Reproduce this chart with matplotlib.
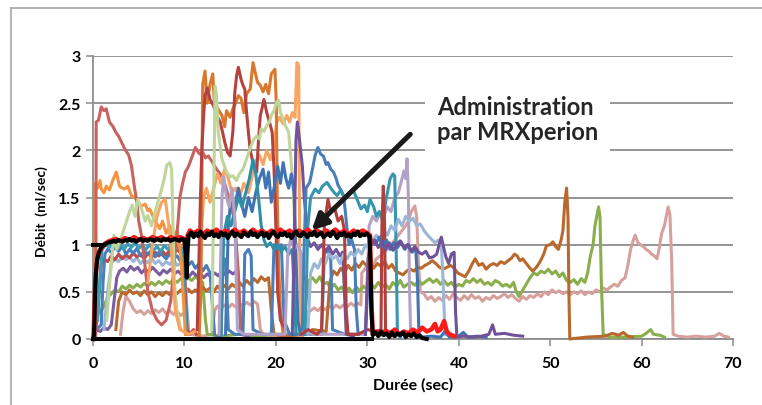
"""
Flow-rate traces (Débit vs Durée) with the MRXperion administration curve highlighted.
"""

import matplotlib
import numpy as np

matplotlib.use("Agg")
import matplotlib.pyplot as plt
from matplotlib.lines import Line2D

plt.rcParams["font.family"] = ["Lato", "DejaVu Sans"]

# -- Data (time in sec, flow in ml/sec) ---------------------------------------
SALMON = [(0.3, 0.0), (0.35, 2.3), (0.6, 2.32), (0.9, 2.46), (1.2, 2.42), (1.45, 2.44),
          (1.8, 2.3), (2.2, 2.25), (2.5, 2.19), (2.8, 2.15), (3.1, 2.09), (3.5, 2.01),
          (3.9, 1.95), (4.2, 1.84), (4.55, 1.6), (4.8, 1.45), (5.0, 1.25), (5.3, 1.1),
          (5.6, 0.85), (6.0, 0.5), (6.5, 0.3), (7.0, 0.2), (7.5, 0.15), (8.0, 0.2),
          (8.5, 0.4), (8.8, 0.7), (9.0, 0.95), (9.3, 1.24), (9.5, 1.5), (9.8, 1.65),
          (10.1, 1.77), (10.4, 1.82), (10.6, 1.87), (10.9, 1.95), (11.2, 2.03), (11.5, 1.98),
          (11.7, 1.96), (12.0, 1.98), (12.3, 1.92), (12.6, 1.94), (13.1, 1.87), (13.5, 1.8),
          (14.0, 1.74), (14.5, 1.62), (15.0, 1.45), (15.5, 1.25), (15.9, 0.7), (16.2, 0.05)]

ORANGE = [(0.2, 0.0), (0.28, 1.65), (0.5, 1.6), (0.77, 1.68), (0.9, 1.59), (1.2, 1.55),
          (1.45, 1.62), (1.8, 1.58), (2.2, 1.69), (2.55, 1.77), (2.9, 1.62), (3.2, 1.6),
          (3.5, 1.59), (3.8, 1.62), (4.2, 1.52), (4.5, 1.5), (4.75, 1.48), (5.0, 1.44),
          (5.3, 1.41), (5.7, 1.43), (6.0, 1.36), (6.2, 1.38), (6.7, 1.27), (7.0, 1.22),
          (7.3, 1.17), (7.6, 1.25), (8.0, 1.12), (8.4, 1.2), (8.8, 1.08), (9.2, 1.15),
          (9.6, 0.9), (9.9, 0.4), (10.1, 0.05)]

LIGHT_ORANGE = [(6.0, 0.6), (6.5, 1.0), (7.0, 1.3), (7.5, 1.45), (7.9, 1.48), (8.3, 1.2),
                (8.7, 0.8), (9.0, 0.3), (9.5, 0.1), (10.5, 0.05), (11.5, 0.1), (11.9, 1.2),
                (12.1, 1.5), (12.4, 1.6), (12.8, 1.45), (13.2, 1.6), (13.6, 1.75), (14.0, 1.65),
                (14.4, 1.8), (14.8, 1.7), (15.2, 1.55), (15.6, 1.6), (16.0, 1.5), (16.5, 1.65),
                (17.0, 1.55), (17.4, 1.72), (17.8, 1.88), (18.2, 1.95), (18.6, 1.85), (19.0, 2.0),
                (19.4, 1.9), (19.8, 2.05), (20.1, 2.3), (20.4, 2.35), (20.8, 2.28), (21.2, 2.37),
                (21.5, 2.3), (21.8, 2.4), (22.1, 2.35), (22.3, 2.93), (22.5, 2.9), (22.6, 1.0),
                (22.7, 0.1), (23.0, 0.0)]

DARK_ORANGE = [(11.6, 0.0), (11.8, 0.5), (12.0, 2.7), (12.25, 2.84), (12.5, 2.5), (12.8, 2.7),
               (13.1, 2.81), (13.3, 2.47), (13.6, 2.45), (14.1, 2.37), (14.4, 2.25), (14.6, 2.42),
               (15.0, 2.35), (15.3, 2.44), (15.6, 2.5), (15.9, 2.58), (16.2, 2.55), (16.5, 2.4),
               (16.8, 2.6), (17.2, 2.65), (17.5, 2.93), (17.8, 2.8), (18.0, 2.72), (18.3, 2.69),
               (18.6, 2.62), (18.9, 2.7), (19.2, 2.6), (19.5, 2.81), (19.9, 2.86), (20.05, 2.5),
               (20.15, 1.5), (20.3, 0.8), (20.5, 0.3), (20.8, 0.05)]

DARK_RED = [(11.4, 0.1), (11.7, 1.3), (11.9, 2.01), (12.1, 2.37), (12.25, 2.58), (12.5, 2.66),
            (12.8, 2.54), (13.2, 2.47), (13.5, 2.38), (13.9, 2.3), (14.2, 2.18), (14.4, 2.09),
            (14.7, 1.98), (15.0, 1.94), (15.3, 2.2), (15.5, 2.6), (15.7, 2.79), (15.9, 2.88),
            (16.2, 2.75), (16.4, 2.69), (16.6, 2.65), (16.8, 2.4), (17.0, 2.19), (17.2, 2.0),
            (17.4, 1.91), (17.7, 1.8), (17.9, 1.77), (18.1, 2.1), (18.3, 2.37), (18.5, 2.45),
            (18.7, 2.54), (19.0, 2.4), (19.3, 2.3), (19.6, 2.19), (19.8, 1.8), (20.0, 1.2),
            (20.2, 0.5), (20.5, 0.2), (21.0, 0.1)]

LIGHT_GREEN_A = [(1.5, 0.2), (2.0, 0.8), (2.3, 1.1), (2.6, 0.95), (3.0, 1.05), (3.5, 1.2),
                 (4.0, 1.35), (4.3, 1.42), (4.6, 1.3), (4.9, 1.48), (5.3, 1.38), (5.7, 1.25),
                 (6.0, 1.31), (6.4, 1.2), (6.8, 1.35), (7.1, 1.45), (7.4, 1.55), (7.8, 1.7),
                 (8.05, 1.84), (8.4, 1.87), (8.6, 1.8), (8.75, 1.2), (8.9, 0.6), (9.2, 0.3),
                 (9.6, 0.1)]

LIGHT_GREEN_B = [(13.0, 0.1), (13.2, 1.5), (13.35, 2.68), (13.5, 2.6), (13.7, 2.19), (14.1, 1.91),
                 (14.6, 1.77), (15.0, 1.72), (15.3, 1.73), (15.7, 1.68), (16.0, 1.75), (16.4, 1.8),
                 (16.8, 1.91), (17.3, 2.05), (17.6, 2.12), (17.9, 2.15), (18.2, 2.12), (18.4, 2.23),
                 (18.7, 2.2), (19.0, 2.26), (19.3, 2.3), (19.5, 2.37), (19.8, 2.42), (20.1, 2.51),
                 (20.3, 2.53), (20.5, 2.4), (20.8, 2.33), (21.1, 2.25), (21.4, 2.19), (21.7, 1.84),
                 (21.9, 1.6), (22.1, 1.1), (22.3, 0.3), (22.5, 0.05)]

BLUE_A = [(14.5, 0.05), (14.8, 1.2), (15.1, 1.5), (15.5, 1.4), (15.9, 1.6), (16.2, 1.45),
          (16.6, 1.3), (17.0, 1.5), (17.4, 1.35), (17.8, 1.55), (18.2, 1.7), (18.6, 1.8),
          (18.9, 1.6), (19.2, 1.77), (19.5, 1.45), (19.8, 1.6), (20.2, 1.83), (20.5, 1.65),
          (20.8, 1.87), (21.1, 1.7), (21.4, 1.6), (21.7, 1.75), (22.0, 1.55), (22.2, 0.9),
          (22.4, 0.2), (22.7, 0.05)]

BLUE_B = [(22.9, 0.1), (23.1, 1.0), (23.3, 1.6), (23.7, 1.66), (24.0, 1.8), (24.3, 1.95),
          (24.6, 2.03), (24.9, 1.96), (25.2, 1.94), (25.5, 1.85), (25.7, 1.87), (26.0, 1.8),
          (26.3, 1.77), (26.6, 1.7), (26.8, 1.63), (27.1, 1.58), (27.4, 1.52), (27.6, 1.35),
          (27.8, 1.15), (28.0, 1.0), (28.3, 1.05), (28.6, 0.95), (28.8, 0.3), (29.0, 0.05)]

BLUE_C = [(0.2, 0.1), (0.6, 0.12), (0.9, 0.15), (1.1, 0.6), (1.3, 0.9), (1.6, 0.95), (2.0, 0.92),
          (2.4, 0.97), (2.8, 0.93), (3.2, 0.98), (3.6, 0.9), (4.0, 0.95), (4.4, 0.91), (4.8, 0.96),
          (5.2, 0.88), (5.6, 0.93), (6.0, 0.9), (6.4, 0.94), (6.8, 0.87), (7.2, 0.92), (7.6, 0.89),
          (8.0, 0.85), (8.4, 0.9), (8.8, 0.86), (9.2, 0.88), (9.6, 0.82), (10.0, 0.85),
          (10.4, 0.78), (10.8, 0.82), (11.2, 0.75), (11.6, 0.8), (12.0, 0.72), (12.4, 0.78),
          (12.8, 0.7), (13.1, 0.3), (13.3, 0.05)]

BLUE_D = [(29.8, 0.05), (30.2, 0.9), (30.5, 1.05), (30.9, 1.0), (31.3, 1.08), (31.7, 0.98),
          (32.1, 1.05), (32.5, 0.95), (32.9, 1.02), (33.3, 0.97), (33.7, 1.03), (34.1, 0.95),
          (34.5, 1.0), (34.9, 0.92), (35.3, 0.96), (35.5, 0.6), (35.65, 0.05), (36.0, 0.02),
          (37.0, 0.03), (38.0, 0.02), (38.5, 0.08), (39.0, 0.02), (40.0, 0.03), (40.5, 0.07),
          (41.0, 0.02), (42.0, 0.03), (43.0, 0.02)]

BLUE_E = [(13.5, 0.02), (14.0, 0.03), (14.2, 0.8), (14.5, 0.85), (14.8, 0.1), (15.5, 0.05),
          (16.4, 0.05), (16.6, 0.9), (17.0, 0.95), (17.3, 0.88), (17.5, 0.1), (18.5, 0.05),
          (19.5, 0.05), (19.8, 1.0), (20.2, 0.95), (20.6, 1.0), (20.9, 0.2), (21.5, 0.05),
          (25.0, 0.05), (25.3, 0.9), (25.7, 0.95), (26.0, 0.85), (26.2, 0.1), (27.5, 0.05),
          (28.0, 0.05)]

TEAL_A = [(0.5, 0.2), (0.8, 0.7), (1.0, 0.95), (1.4, 1.0), (1.8, 0.97), (2.2, 1.02), (2.6, 0.96),
          (3.0, 1.0), (3.4, 0.95), (3.8, 1.01), (4.2, 0.97), (4.6, 1.02), (5.0, 0.96), (5.4, 0.99),
          (5.8, 0.95), (6.2, 1.0), (6.6, 0.94), (7.0, 0.98), (7.4, 0.93), (7.8, 0.99), (8.2, 0.95),
          (8.6, 1.0), (9.0, 0.94), (9.4, 0.98), (9.8, 0.96), (10.0, 0.5), (10.2, 0.05)]

TEAL_B = [(14.0, 0.05), (14.3, 1.1), (14.7, 1.3), (15.1, 1.2), (15.5, 1.35), (15.9, 1.5),
          (16.3, 1.4), (16.7, 1.55), (17.1, 1.7), (17.5, 1.9), (17.8, 1.75), (18.1, 1.5),
          (18.4, 1.2), (18.7, 1.05), (19.0, 0.98), (19.4, 1.02), (19.8, 0.95), (20.2, 1.0),
          (20.6, 0.93), (21.0, 0.98), (21.4, 0.9), (21.8, 0.95), (22.0, 0.5), (22.2, 0.05)]

TEAL_C = [(23.2, 0.05), (23.5, 1.2), (23.8, 1.5), (24.3, 1.59), (24.7, 1.55), (25.1, 1.62),
          (25.6, 1.66), (26.0, 1.6), (26.4, 1.55), (26.7, 1.52), (27.1, 1.58), (27.5, 1.5),
          (28.0, 1.55), (28.4, 1.59), (28.8, 1.5), (29.3, 1.38), (29.7, 1.42), (30.0, 1.35),
          (30.3, 1.48), (30.7, 1.4), (31.0, 1.3), (31.3, 1.35), (31.7, 1.25), (32.0, 1.45),
          (32.3, 1.6), (32.5, 1.7), (32.8, 1.75), (33.0, 1.73), (33.15, 1.0), (33.3, 0.05),
          (33.6, 0.02)]

PURPLE_A = [(0.1, 0.05), (0.3, 0.1), (0.8, 0.08), (1.2, 0.12), (1.6, 0.1), (2.0, 0.15),
            (2.3, 0.4), (2.6, 0.65), (2.9, 0.72), (3.3, 0.75), (3.7, 0.71), (4.1, 0.77),
            (4.5, 0.73), (4.9, 0.76), (5.3, 0.7), (5.7, 0.74), (6.1, 0.71), (6.5, 0.76),
            (6.9, 0.72), (7.3, 0.68), (7.7, 0.73), (8.1, 0.7), (8.5, 0.74), (8.9, 0.69),
            (9.3, 0.72), (9.7, 0.68), (10.1, 0.7), (10.5, 0.66), (10.9, 0.71), (11.3, 0.67),
            (11.7, 0.7), (12.1, 0.65), (12.5, 0.69), (12.9, 0.66), (13.3, 0.7), (13.7, 0.67),
            (14.1, 0.72), (14.5, 0.68), (14.9, 0.72), (15.3, 0.69), (15.7, 0.72), (16.0, 0.4),
            (16.2, 0.05), (17.0, 0.03)]

PURPLE_B = [(21.8, 0.05), (22.0, 1.0), (22.2, 2.1), (22.35, 2.3), (22.6, 2.1), (22.9, 1.83),
            (23.1, 1.5), (23.3, 1.3), (23.5, 1.05), (23.8, 0.98), (24.2, 1.02), (24.6, 0.95),
            (25.0, 1.0), (25.4, 0.93), (25.8, 0.98), (26.2, 0.9), (26.6, 0.95), (27.0, 0.88),
            (27.3, 0.92), (27.5, 0.5), (27.7, 0.05), (28.5, 0.03)]

PURPLE_C = [(29.8, 0.05), (30.1, 0.85), (30.4, 1.0), (30.8, 1.05), (31.2, 0.97), (31.6, 1.03),
            (32.0, 0.95), (32.4, 1.02), (32.8, 0.94), (33.2, 1.0), (33.6, 1.04), (34.0, 0.97),
            (34.4, 1.0), (34.8, 0.93), (35.2, 0.98), (35.6, 0.92), (36.0, 0.9), (36.4, 0.93),
            (36.8, 0.86), (37.2, 0.87), (37.6, 0.9), (37.9, 1.02), (38.1, 1.08), (38.4, 0.95),
            (38.6, 0.87), (38.9, 0.8), (39.2, 0.9), (39.5, 0.92), (39.65, 0.3), (39.8, 0.02),
            (40.5, 0.03), (41.5, 0.02), (42.5, 0.03), (43.3, 0.05), (43.7, 0.15), (44.0, 0.05),
            (45.0, 0.06), (46.0, 0.04), (47.0, 0.03)]

LIGHT_PURPLE = [(13.8, 0.05), (14.1, 1.5), (14.3, 1.72), (14.6, 1.5), (14.9, 1.4), (15.2, 1.6),
                (15.5, 1.3), (15.8, 0.1), (16.5, 0.05), (21.0, 0.05), (21.3, 0.9), (21.7, 1.1),
                (22.0, 0.95), (22.4, 1.0), (22.8, 0.9), (23.0, 0.1), (24.0, 0.05), (29.8, 0.05),
                (30.2, 1.2), (30.6, 1.3), (31.0, 1.25), (31.4, 1.35), (31.8, 1.3), (32.2, 1.4),
                (32.6, 1.35), (33.0, 1.5), (33.4, 1.55), (33.8, 1.7), (34.0, 1.78), (34.2, 1.7),
                (34.35, 1.91), (34.5, 1.5), (34.6, 0.6), (34.75, 0.05), (35.5, 0.03)]

LIGHT_BLUE_A = [(1.2, 0.1), (1.6, 0.5), (2.0, 0.8), (2.4, 0.85), (2.8, 0.82), (3.2, 0.88),
                (3.6, 0.84), (4.0, 0.87), (4.4, 0.82), (4.8, 0.86), (5.2, 0.8), (5.6, 0.84),
                (6.0, 0.81), (6.4, 0.86), (6.8, 0.8), (7.2, 0.83), (7.6, 0.78), (8.0, 0.82),
                (8.4, 0.79), (8.8, 0.84), (9.2, 0.78), (9.6, 0.8), (10.0, 0.75), (10.3, 0.3),
                (10.5, 0.05)]

LIGHT_BLUE_B = [(23.5, 0.05), (23.8, 0.7), (24.2, 0.8), (24.6, 0.75), (25.0, 0.85), (25.4, 0.8),
                (25.8, 0.9), (26.2, 0.85), (26.6, 0.88), (27.0, 0.8), (27.4, 0.9), (27.8, 0.85),
                (28.2, 0.92), (28.6, 0.88), (29.0, 0.95), (29.4, 0.9), (29.8, 1.0), (30.2, 0.95),
                (30.6, 1.05), (31.0, 1.1), (31.4, 1.05), (31.8, 1.15), (32.2, 1.1), (32.6, 1.2),
                (33.0, 1.15), (33.4, 1.27), (33.8, 1.2), (34.2, 1.3), (34.6, 1.25), (35.0, 1.28),
                (35.4, 1.2), (35.8, 1.22), (36.2, 1.15), (36.6, 1.1), (37.0, 1.06), (37.4, 1.02),
                (37.8, 1.05), (38.1, 1.0), (38.3, 0.6), (38.5, 0.05), (39.0, 0.03)]

RED_A = [(0.3, 0.1), (0.6, 0.4), (0.9, 0.8), (1.2, 0.85), (1.6, 0.82), (2.0, 0.88), (2.4, 0.84),
         (2.8, 0.9), (3.2, 0.85), (3.6, 0.89), (4.0, 0.86), (4.4, 0.91), (4.8, 0.87), (5.2, 0.9),
         (5.6, 0.85), (6.0, 0.91), (6.4, 0.87), (6.8, 0.92), (7.2, 0.88), (7.6, 0.93), (8.0, 0.89),
         (8.4, 0.94), (8.8, 0.9), (9.2, 0.95), (9.6, 0.91), (9.9, 0.94), (10.1, 0.5), (10.3, 0.1),
         (10.6, 0.05), (11.0, 0.1), (11.3, 0.05)]

DARK_RED_B = [(22.8, 0.05), (23.5, 0.1), (24.5, 0.05), (25.0, 0.1), (25.3, 1.2), (25.7, 1.48),
              (26.0, 1.35), (26.4, 1.4), (26.8, 1.25), (27.2, 1.3), (27.5, 1.15), (27.7, 0.3),
              (27.9, 0.05), (29.0, 0.05), (30.0, 0.1), (31.0, 0.08), (31.5, 0.1), (31.6, 1.2),
              (31.75, 1.62), (31.9, 1.2), (32.0, 0.05), (33.0, 0.03)]

BROWN = [(2.5, 0.1), (2.8, 0.4), (3.2, 0.5), (3.6, 0.47), (4.0, 0.52), (4.4, 0.48), (4.8, 0.5),
         (5.2, 0.46), (5.6, 0.51), (6.0, 0.47), (6.4, 0.5), (6.8, 0.45), (7.2, 0.49), (7.6, 0.46),
         (8.0, 0.5), (8.4, 0.47), (8.8, 0.51), (9.2, 0.48), (9.6, 0.52), (10.0, 0.5), (10.4, 0.53),
         (10.8, 0.49), (11.2, 0.52), (11.6, 0.5), (12.0, 0.55), (12.4, 0.51), (12.8, 0.54),
         (13.2, 0.5), (13.6, 0.56), (14.0, 0.52), (14.4, 0.57), (14.8, 0.53), (15.2, 0.58),
         (15.6, 0.55), (16.0, 0.6), (16.4, 0.56), (16.8, 0.62), (17.2, 0.58), (17.6, 0.64),
         (18.0, 0.6), (18.4, 0.66), (18.8, 0.62), (19.2, 0.65), (19.5, 0.3), (19.8, 0.05),
         (21.0, 0.03), (23.5, 0.05), (24.0, 0.1), (25.5, 0.08), (25.9, 0.6), (26.3, 0.72),
         (26.7, 0.68), (27.1, 0.75), (27.5, 0.7), (27.9, 0.78), (28.3, 0.73), (28.7, 0.8),
         (29.1, 0.76), (29.5, 0.82), (29.9, 0.78), (30.3, 0.8), (30.7, 0.75), (31.1, 0.8),
         (31.5, 0.77), (31.9, 0.82), (32.3, 0.75), (32.7, 0.79), (33.1, 0.72), (33.5, 0.7),
         (33.9, 0.68), (34.3, 0.72), (34.7, 0.74), (35.1, 0.72), (35.5, 0.76), (35.9, 0.75),
         (36.3, 0.78), (36.7, 0.8), (37.1, 0.83), (37.5, 0.8), (37.9, 0.76), (38.3, 0.74),
         (38.7, 0.76), (39.1, 0.78), (39.5, 0.75), (39.9, 0.7), (40.3, 0.68), (40.7, 0.66),
         (41.1, 0.72), (41.5, 0.8), (41.8, 0.85), (42.2, 0.78), (42.6, 0.8), (43.0, 0.74),
         (43.4, 0.78), (43.8, 0.8), (44.2, 0.78), (44.6, 0.82), (45.0, 0.8), (45.4, 0.83),
         (45.8, 0.86), (46.1, 0.9), (46.4, 0.88), (46.7, 0.83), (47.0, 0.85), (47.4, 0.8),
         (47.8, 0.75), (48.1, 0.72), (48.5, 0.76), (48.9, 0.82), (49.3, 0.9), (49.6, 0.99),
         (50.0, 1.0), (50.3, 1.03), (50.6, 0.98), (50.9, 0.95), (51.2, 1.05), (51.4, 1.15),
         (51.6, 1.45), (51.8, 1.6), (51.95, 1.3), (52.05, 0.5), (52.15, 0.0), (54.0, 0.02),
         (56.0, 0.03), (56.8, 0.06), (57.5, 0.04), (58.0, 0.07), (58.5, 0.03), (59.0, 0.02)]

GREEN = [(0.3, 0.1), (0.5, 0.25), (0.8, 0.3), (1.1, 0.33), (1.4, 0.4), (1.7, 0.45), (2.0, 0.48),
         (2.4, 0.52), (2.8, 0.5), (3.2, 0.56), (3.6, 0.53), (4.0, 0.57), (4.4, 0.54), (4.8, 0.58),
         (5.2, 0.55), (5.6, 0.59), (6.0, 0.56), (6.4, 0.6), (6.8, 0.57), (7.2, 0.61), (7.6, 0.58),
         (8.0, 0.62), (8.4, 0.59), (8.8, 0.63), (9.2, 0.6), (9.6, 0.64), (10.0, 0.61), (10.4, 0.65),
         (10.8, 0.62), (11.2, 0.66), (11.6, 0.63), (12.0, 0.6), (12.3, 0.2), (12.5, 0.05),
         (14.0, 0.03), (16.0, 0.05), (18.0, 0.03), (20.0, 0.05), (22.5, 0.05), (23.0, 0.1),
         (23.3, 0.4), (23.6, 0.62), (24.0, 0.65), (24.4, 0.6), (24.8, 0.66), (25.2, 0.58),
         (25.6, 0.6), (26.0, 0.54), (26.4, 0.58), (26.8, 0.52), (27.2, 0.55), (27.6, 0.5),
         (28.0, 0.54), (28.4, 0.49), (28.8, 0.55), (29.2, 0.51), (29.6, 0.56), (30.0, 0.52),
         (30.4, 0.58), (30.8, 0.54), (31.2, 0.6), (31.6, 0.55), (32.0, 0.58), (32.4, 0.53),
         (32.8, 0.6), (33.2, 0.56), (33.6, 0.62), (34.0, 0.55), (34.4, 0.58), (34.8, 0.6),
         (35.2, 0.57), (35.6, 0.62), (36.0, 0.58), (36.4, 0.61), (36.8, 0.64), (37.2, 0.6),
         (37.6, 0.63), (38.0, 0.58), (38.4, 0.62), (38.8, 0.57), (39.2, 0.6), (39.6, 0.55),
         (40.0, 0.58), (40.4, 0.56), (40.8, 0.62), (41.2, 0.6), (41.6, 0.64), (42.0, 0.6),
         (42.4, 0.63), (42.8, 0.58), (43.2, 0.6), (43.6, 0.57), (44.0, 0.62), (44.4, 0.6),
         (44.8, 0.56), (45.2, 0.58), (45.6, 0.55), (46.0, 0.6), (46.3, 0.5), (46.6, 0.45),
         (46.9, 0.5), (47.2, 0.55), (47.5, 0.6), (47.8, 0.65), (48.2, 0.7), (48.6, 0.68),
         (49.0, 0.72), (49.4, 0.7), (49.8, 0.74), (50.2, 0.69), (50.6, 0.72), (51.0, 0.66),
         (51.4, 0.7), (51.8, 0.62), (52.2, 0.6), (52.6, 0.63), (53.0, 0.58), (53.4, 0.64),
         (53.8, 0.6), (54.1, 0.7), (54.4, 0.88), (54.7, 1.0), (54.9, 1.2), (55.1, 1.3),
         (55.3, 1.4), (55.45, 1.3), (55.6, 0.6), (55.8, 0.05), (56.5, 0.02), (58.0, 0.02),
         (60.0, 0.03), (60.5, 0.06), (61.0, 0.1), (61.3, 0.05), (62.0, 0.04), (62.5, 0.02)]

PINK = [(3.0, 0.05), (3.3, 0.3), (3.6, 0.45), (4.0, 0.4), (4.4, 0.32), (4.8, 0.28), (5.2, 0.3),
        (5.6, 0.26), (6.0, 0.3), (6.4, 0.27), (6.8, 0.31), (7.2, 0.28), (7.6, 0.32), (8.0, 0.27),
        (8.4, 0.3), (8.8, 0.26), (9.2, 0.29), (9.6, 0.25), (10.0, 0.28), (10.3, 0.1),
        (10.6, 0.05), (12.0, 0.03), (13.0, 0.05), (13.3, 0.3), (13.6, 0.35), (14.0, 0.32),
        (14.4, 0.36), (14.8, 0.33), (15.2, 0.37), (15.6, 0.34), (16.0, 0.38), (16.4, 0.35),
        (16.8, 0.39), (17.2, 0.36), (17.6, 0.4), (18.0, 0.37), (18.3, 0.1), (18.6, 0.05),
        (20.0, 0.03), (22.5, 0.05), (23.0, 0.1), (23.4, 0.28), (23.8, 0.3), (24.2, 0.33),
        (24.6, 0.3), (25.0, 0.34), (25.4, 0.31), (25.8, 0.35), (26.2, 0.32), (26.6, 0.36),
        (27.0, 0.33), (27.4, 0.36), (27.8, 0.34), (28.2, 0.38), (28.6, 0.35), (29.0, 0.38),
        (29.3, 0.36), (29.4, 0.7), (29.8, 0.75), (30.2, 0.8), (30.6, 0.78), (31.0, 0.85),
        (31.4, 0.88), (31.8, 0.92), (32.2, 0.95), (32.6, 1.0), (33.0, 1.05), (33.4, 1.1),
        (33.8, 1.15), (34.2, 1.2), (34.5, 1.25), (34.8, 1.35), (35.2, 1.41), (35.4, 1.3),
        (35.6, 0.8), (35.8, 0.5), (36.2, 0.48), (36.6, 0.42), (37.0, 0.45), (37.4, 0.4),
        (37.8, 0.44), (38.2, 0.41), (38.6, 0.46), (39.0, 0.42), (39.4, 0.48), (39.8, 0.44),
        (40.2, 0.41), (40.6, 0.46), (41.0, 0.42), (41.4, 0.47), (41.8, 0.43), (42.2, 0.45),
        (42.6, 0.4), (43.0, 0.44), (43.4, 0.42), (43.8, 0.46), (44.2, 0.43), (44.6, 0.45),
        (45.0, 0.48), (45.4, 0.44), (45.8, 0.47), (46.2, 0.43), (46.6, 0.4), (47.0, 0.45),
        (47.4, 0.42), (47.8, 0.46), (48.2, 0.44), (48.6, 0.48), (49.0, 0.45), (49.4, 0.5),
        (49.8, 0.47), (50.2, 0.52), (50.6, 0.49), (51.0, 0.51), (51.4, 0.48), (51.8, 0.5),
        (52.2, 0.47), (52.6, 0.5), (53.0, 0.48), (53.4, 0.51), (53.8, 0.47), (54.2, 0.5),
        (54.6, 0.48), (55.0, 0.52), (55.4, 0.5), (55.8, 0.54), (56.2, 0.52), (56.6, 0.55),
        (57.0, 0.58), (57.4, 0.56), (57.8, 0.62), (58.2, 0.65), (58.5, 0.78), (58.8, 0.95),
        (59.1, 1.05), (59.3, 1.1), (59.6, 1.02), (59.9, 1.0), (60.2, 0.98), (60.5, 0.95),
        (60.8, 0.93), (61.1, 0.9), (61.4, 0.88), (61.7, 0.85), (61.9, 0.95), (62.2, 1.12),
        (62.5, 1.2), (62.7, 1.3), (62.9, 1.4), (63.1, 1.32), (63.3, 0.8), (63.45, 0.05),
        (64.0, 0.03), (65.0, 0.02), (66.0, 0.03), (67.0, 0.02), (68.0, 0.03), (68.5, 0.06),
        (69.0, 0.03), (69.5, 0.02)]

RED_MRX = [(0.05, 0.0), (0.15, 0.3), (0.25, 0.6), (0.4, 0.8), (0.6, 0.9), (0.9, 0.96),
           (1.3, 1.01), (1.8, 1.04), (2.5, 1.06), (3.0, 1.04), (3.5, 1.07), (4.0, 1.05),
           (4.5, 1.08), (5.0, 1.05), (5.5, 1.07), (6.0, 1.05), (6.5, 1.08), (7.0, 1.06),
           (7.5, 1.08), (8.0, 1.05), (8.5, 1.08), (9.0, 1.06), (9.5, 1.08), (10.0, 1.06),
           (10.2, 0.8), (10.35, 1.1), (10.6, 1.15), (11.0, 1.12), (11.5, 1.15), (12.0, 1.11),
           (12.5, 1.15), (13.0, 1.12), (13.5, 1.16), (14.0, 1.11), (14.5, 1.15), (15.0, 1.12),
           (15.5, 1.16), (16.0, 1.12), (16.5, 1.15), (17.0, 1.11), (17.5, 1.16), (18.0, 1.12),
           (18.5, 1.15), (19.0, 1.11), (19.5, 1.15), (20.0, 1.12), (20.5, 1.16), (21.0, 1.12),
           (21.5, 1.15), (22.0, 1.11), (22.5, 1.15), (23.0, 1.12), (23.5, 1.16), (24.0, 1.12),
           (24.5, 1.15), (25.0, 1.11), (25.5, 1.15), (26.0, 1.12), (26.5, 1.16), (27.0, 1.12),
           (27.5, 1.15), (28.0, 1.11), (28.5, 1.15), (29.0, 1.12), (29.5, 1.15), (30.0, 1.12),
           (30.3, 1.1), (30.45, 0.4), (30.6, 0.05), (31.0, 0.08), (31.5, 0.05), (32.0, 0.09),
           (32.5, 0.06), (33.0, 0.1), (33.5, 0.05), (34.0, 0.08), (34.5, 0.06), (35.0, 0.1),
           (35.5, 0.07), (36.0, 0.12), (36.5, 0.08), (37.0, 0.1), (37.4, 0.16), (37.7, 0.08),
           (38.0, 0.1), (38.4, 0.19), (38.7, 0.08), (39.0, 0.05), (39.5, 0.03)]

# MRXperion curve (black) in pieces: lead-in, rise, plateau 1, dip, plateau 2, fall + tail
MRX_LEAD = [(0.0, 1.0), (1.2, 1.0)]
MRX_BASE = [(0.0, 0.0), (30.5, 0.0)]
MRX_RISE = [(0.0, 0.0), (0.12, 0.05), (0.22, 0.45), (0.32, 0.7), (0.45, 0.84), (0.65, 0.92),
            (0.9, 0.97), (1.2, 1.0), (1.6, 1.02), (2.0, 1.03)]
MRX_PLATEAU1 = [1.03, 1.04, 1.03, 1.05, 1.04, 1.03, 1.05, 1.04, 1.06, 1.04, 1.05, 1.03, 1.05,
                1.06, 1.04, 1.05, 1.04, 1.06, 1.05, 1.04, 1.06, 1.05, 1.04, 1.06, 1.05, 1.06,
                1.04, 1.05, 1.06, 1.05, 1.04, 1.06, 1.05]
MRX_DIP = [(10.0, 1.05), (10.15, 0.9), (10.25, 0.65), (10.35, 0.95), (10.45, 1.08)]
MRX_PLATEAU2 = [1.10, 1.13, 1.08, 1.12, 1.09, 1.14, 1.10, 1.07, 1.12, 1.10, 1.14, 1.09, 1.11,
                1.08, 1.13, 1.10, 1.12, 1.07, 1.11, 1.14, 1.09, 1.12, 1.10, 1.08, 1.13, 1.11,
                1.09, 1.14, 1.10, 1.12, 1.08, 1.11, 1.13, 1.09, 1.12, 1.07, 1.11, 1.14, 1.10,
                1.08, 1.12, 1.10, 1.13, 1.09, 1.11, 1.07, 1.12, 1.14, 1.10, 1.09, 1.13, 1.11,
                1.08, 1.12, 1.10, 1.14, 1.09, 1.11, 1.13, 1.08, 1.10, 1.12, 1.09, 1.14, 1.11,
                1.07, 1.12, 1.10, 1.13, 1.09, 1.11, 1.08, 1.12, 1.10, 1.14, 1.09, 1.11, 1.10,
                1.12, 1.09]
MRX_FALL = [(30.25, 1.08), (30.35, 0.8), (30.45, 0.3), (30.6, 0.04), (30.9, 0.07), (31.2, 0.03),
            (31.5, 0.08), (31.8, 0.04), (32.1, 0.06), (32.4, 0.02), (32.7, 0.07), (33.0, 0.03),
            (33.3, 0.06), (33.6, 0.04), (33.9, 0.07), (34.2, 0.02), (34.5, 0.05), (34.8, 0.03),
            (35.1, 0.06), (35.4, 0.02), (35.7, 0.04), (36.0, 0.01), (36.5, 0.0)]

X_TICKS = [0, 10, 20, 30, 40, 50, 60, 70]
Y_TICKS = [0, 0.5, 1, 1.5, 2, 2.5, 3]
Y_TICK_LABELS = ["0", "0.5", "1", "1.5", "2", "2.5", "3"]

# -- Styles --------------------------------------------------------------------
BACKGROUND_SERIES = [
    (PINK, "#D6A09D"), (GREEN, "#8AAE4C"), (BROWN, "#B9692C"),
    (PURPLE_A, "#7A5C9F"), (LIGHT_BLUE_A, "#9DB6D8"), (RED_A, "#BE4B48"),
    (BLUE_C, "#4A7EBB"), (TEAL_A, "#3D9CB5"), (ORANGE, "#F4943F"),
    (SALMON, "#C8625F"), (LIGHT_GREEN_A, "#BFD59A"), (LIGHT_ORANGE, "#F9A461"),
    (DARK_ORANGE, "#D9782D"), (DARK_RED, "#B5423F"), (LIGHT_GREEN_B, "#BFD59A"),
    (BLUE_A, "#3F73B3"), (BLUE_E, "#4A7EBB"), (TEAL_B, "#2F8FA8"),
    (LIGHT_PURPLE, "#B3A2C7"), (PURPLE_B, "#70539A"), (BLUE_B, "#4A7EBB"),
    (TEAL_C, "#3596AF"), (LIGHT_BLUE_B, "#9DB6D8"), (DARK_RED_B, "#B0403D"),
    (BLUE_D, "#3F73B3"), (PURPLE_C, "#6F5297"),
]


def xy(points):
    arr = np.array(points, dtype=float)
    return arr[:, 0], arr[:, 1]


fig = plt.figure(figsize=(7.62, 4.06), dpi=100)
ax = fig.add_axes([93 / 762, 1 - 340 / 406, 640 / 762, 283 / 406])

for pts, color in BACKGROUND_SERIES:
    x, y = xy(pts)
    ax.plot(x, y, color=color, lw=2.2, solid_joinstyle="round", clip_on=False, zorder=3)

# red reference underneath the black MRXperion trace
x, y = xy(RED_MRX)
ax.plot(x, y, color="#FF1A1A", lw=3.2, clip_on=False, zorder=4)

black_kw = dict(color="#000000", lw=2.9, solid_joinstyle="round", clip_on=False, zorder=5)
for pts in (MRX_LEAD, MRX_BASE, MRX_RISE, MRX_DIP, MRX_FALL):
    x, y = xy(pts)
    ax.plot(x, y, **black_kw)
ax.plot(np.linspace(2.0, 9.95, len(MRX_PLATEAU1)), MRX_PLATEAU1, **black_kw)
ax.plot(np.linspace(10.5, 30.2, len(MRX_PLATEAU2)), MRX_PLATEAU2, **black_kw)

# -- Axes ----------------------------------------------------------------------
ax.set_xlim(0, 70)
ax.set_ylim(0, 3)
ax.set_xticks(X_TICKS)
ax.set_yticks(Y_TICKS)
ax.set_yticklabels(Y_TICK_LABELS)
ax.tick_params(axis="both", labelsize=11.5, length=5, width=1.1, color="#8C8C8C")
ax.tick_params(axis="x", pad=7)
ax.tick_params(axis="y", pad=4)
for lbl in ax.get_xticklabels() + ax.get_yticklabels():
    lbl.set_fontweight("bold")
ax.yaxis.grid(True, color="#8C8C8C", lw=1.3, zorder=0)
ax.set_axisbelow(True)
for side in ("top", "right"):
    ax.spines[side].set_visible(False)
for side in ("left", "bottom"):
    ax.spines[side].set_color("#8C8C8C")
    ax.spines[side].set_linewidth(1.3)

ax.set_xlabel("Durée (sec)", fontsize=11.5, fontweight="bold")
ax.xaxis.set_label_coords(0.5, -0.135)
ax.set_ylabel("Débit  (ml/sec)", fontsize=10, fontweight="bold")
ax.yaxis.set_label_coords(-0.07, 0.455)

# -- Annotation ----------------------------------------------------------------
ax.text(37.6, 2.33, "Administration\npar MRXperion", fontsize=17, fontweight="bold",
        color="#262626", ha="left", va="center", linespacing=1.1, zorder=6,
        bbox=dict(boxstyle="square,pad=0.5", facecolor="white", edgecolor="none"))
ax.annotate("", xy=(23.9, 1.15), xytext=(34.7, 2.17),
            arrowprops=dict(arrowstyle="-|>", color="#1A1A1A", lw=3.6, mutation_scale=24,
                            shrinkA=0, shrinkB=0), zorder=6)

# chart-area border (left and top edges visible)
fig.add_artist(Line2D([10.5 / 762, 10.5 / 762], [0, 1 - 8.5 / 406], color="#A6A6A6", lw=1.2))
fig.add_artist(Line2D([10.5 / 762, 1], [1 - 8.5 / 406, 1 - 8.5 / 406], color="#A6A6A6", lw=1.2))

fig.savefig("out.png", dpi=100)
plt.close(fig)
